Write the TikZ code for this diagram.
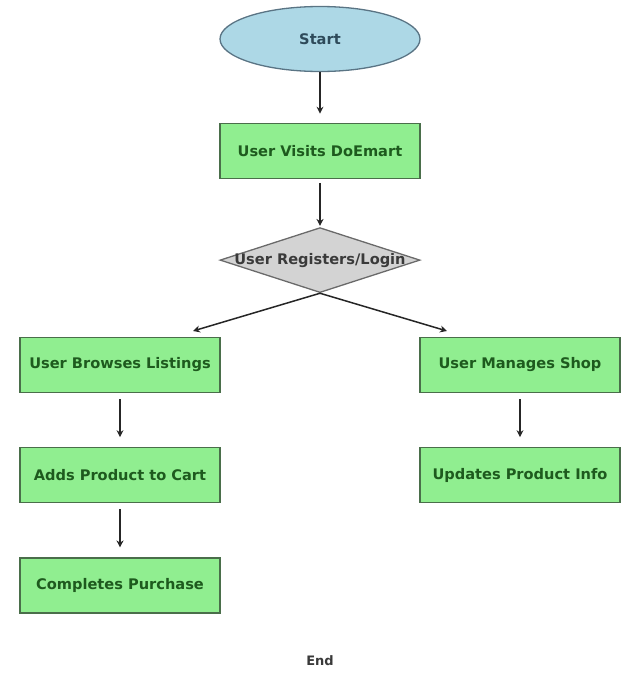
\documentclass[tikz,border=0pt]{standalone}
\usepackage{fontspec}
\setmainfont{DejaVu Sans}
\usetikzlibrary{arrows.meta, shapes.geometric, positioning}
\definecolor{boxfill}{HTML}{90EE90}
\definecolor{boxline}{HTML}{4A6E4A}
\definecolor{boxtext}{HTML}{1E5A1E}
\definecolor{startfill}{HTML}{ADD8E6}
\definecolor{startline}{HTML}{5A7484}
\definecolor{starttext}{HTML}{2E4A5A}
\definecolor{choicefill}{HTML}{D3D3D3}
\definecolor{choiceline}{HTML}{6A6A6A}
\definecolor{greytext}{HTML}{3A3A3A}
\tikzset{
  procbox/.style = {draw=boxline, fill=boxfill, line width=1.3pt, minimum width=200pt,
                    minimum height=55pt, inner sep=0pt, text=boxtext, font=\bfseries\fontsize{14.6}{16}\selectfont},
  arrow/.style   = {line width=1.5pt, draw=black!85, -{Stealth[length=7pt, width=7pt]}}
}

\begin{document}
\begin{tikzpicture}[x=1pt, y=-1pt, node distance=54pt]
		\useasboundingbox (0,0) rectangle (626,696);
		\node[draw=startline, fill=startfill, line width=1.3pt, ellipse, minimum width=200pt,
		      minimum height=65pt, inner sep=0pt, text=starttext,
		      font=\bfseries\fontsize{14.6}{16}\selectfont]           at (320,39)  (start)  {Start};
		\node[procbox, below=50.5pt of start]                        (visit)  {User Visits DoEmart};
		\node[draw=choiceline, fill=choicefill, line width=1.3pt, diamond, minimum width=200pt,
		      minimum height=65pt, inner sep=0pt, below=48pt of visit,
		      label={[text=greytext, font=\bfseries\fontsize{14.6}{16}\selectfont]center:User Registers/Login}] (login)  {};
		\node[procbox]                                     at (120,365) (browse) {User Browses Listings};
		\node[procbox, below=of browse]                              (cart)   {Adds Product to Cart};
		\node[procbox, below=of cart]                                (buy)    {Completes Purchase};
		\node[procbox]                                     at (520,365) (shop)   {User Manages Shop};
		\node[procbox, below=of shop]                                (update) {Updates Product Info};
		\node[text=greytext, font=\bfseries\fontsize{13}{14}\selectfont] at (320,661) (end) {End};

		\coordinate (browse in) at (193,331);
		\coordinate (shop in)   at (447,331);

		\draw[arrow, shorten >=9pt]                 (start)  -- (visit);
		\draw[arrow, shorten <=4pt, shorten >=1pt]  (visit)  -- (login);
		\draw[arrow]                                (login.south) -- (browse in);
		\draw[arrow]                                (login.south) -- (shop in);
		\draw[arrow, shorten <=6pt, shorten >=10pt] (browse) -- (cart);
		\draw[arrow, shorten <=6pt, shorten >=10pt] (cart)   -- (buy);
		\draw[arrow, shorten <=6pt, shorten >=10pt] (shop)   -- (update);
	\end{tikzpicture}
\end{document}
